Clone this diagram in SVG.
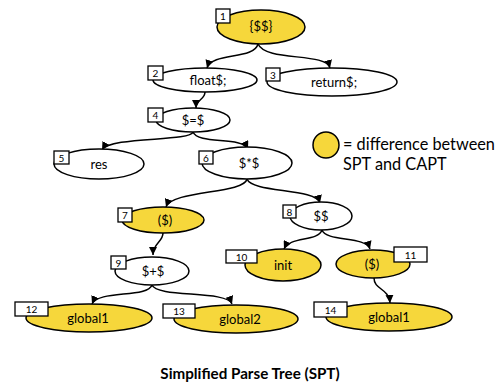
<svg xmlns="http://www.w3.org/2000/svg" width="498" height="384" viewBox="0 0 498 384">
<defs>
<marker id="ah" viewBox="0 0 10 10" refX="10" refY="5" markerWidth="8" markerHeight="8" markerUnits="userSpaceOnUse" orient="auto">
<path d="M0,0 L10,5 L0,10 z" fill="#000"/>
</marker>
<style>
.n{fill:#fff;stroke:#000;stroke-width:1.5}
.y{fill:#F6D73B;stroke:#000;stroke-width:1.5}
.t{font-family:Lato,"Liberation Sans",sans-serif;font-size:13px;text-anchor:middle;fill:#000}
.b{fill:#fff;stroke:#000;stroke-width:1.3}
.bt{font-family:Lato,"Liberation Sans",sans-serif;font-size:10px;text-anchor:middle;fill:#000}
.e{fill:none;stroke:#000;stroke-width:1.5;marker-end:url(#ah)}
.lg{font-family:Lato,"Liberation Sans",sans-serif;font-size:16.3px;fill:#000}
.ti{font-family:Lato,"Liberation Sans",sans-serif;font-size:15.2px;font-weight:bold;text-anchor:middle;fill:#000}
</style>
</defs>
<rect width="498" height="384" fill="#fff"/>
<g id="edges">
<path class="e" d="M258,44 C254,60 212,52 207,68"/>
<path class="e" d="M258,44 C266,62 326,52 330,68"/>
<path class="e" d="M205,92 C205,100 196,99 196,108"/>
<path class="e" d="M193,132 C190,142 110,136 102,150"/>
<path class="e" d="M193,132 C198,145 242,136 248,149"/>
<path class="e" d="M247,179 C244,194 172,190 166,207"/>
<path class="e" d="M247,179 C252,193 316,188 320,203"/>
<path class="e" d="M163,233 C163,242 153,243 153,255"/>
<path class="e" d="M322,230 C318,242 290,236 284,249"/>
<path class="e" d="M322,230 C326,242 366,236 370,249"/>
<path class="e" d="M152,285 C148,298 98,290 92,304"/>
<path class="e" d="M152,285 C157,298 227,290 232,304"/>
<path class="e" d="M374,278 C374,290 389,288 390,303"/>
</g>
<g id="node1"><ellipse class="y" cx="261" cy="27" rx="44" ry="17"/><text class="t" x="261" y="31">{$$}</text><rect class="b" x="216" y="9" width="14" height="14"/><text class="bt" x="223" y="20">1</text></g>
<g id="node2"><ellipse class="n" cx="205" cy="80" rx="52" ry="12"/><text class="t" x="208" y="85">float$;</text><rect class="b" x="148" y="66" width="15" height="14"/><text class="bt" x="155.5" y="77">2</text></g>
<g id="node3"><ellipse class="n" cx="332" cy="82" rx="65" ry="14"/><text class="t" x="334" y="87">return$;</text><rect class="b" x="266" y="68" width="14" height="13"/><text class="bt" x="273" y="78.5">3</text></g>
<g id="node4"><ellipse class="n" cx="193" cy="120" rx="37" ry="12"/><text class="t" x="193" y="125">$=$</text><rect class="b" x="148" y="108" width="15" height="14"/><text class="bt" x="155.5" y="119">4</text></g>
<g id="node5"><ellipse class="n" cx="99" cy="164" rx="45" ry="15"/><text class="t" x="99" y="169">res</text><rect class="b" x="54" y="151" width="15" height="13"/><text class="bt" x="61.5" y="161.5">5</text></g>
<g id="node6"><ellipse class="n" cx="247" cy="163" rx="45" ry="16"/><text class="t" x="249" y="168">$*$</text><rect class="b" x="199" y="151" width="14" height="13"/><text class="bt" x="206" y="161.5">6</text></g>
<g id="node7"><ellipse class="y" cx="163" cy="220" rx="41" ry="13"/><text class="t" x="165" y="225">($)</text><rect class="b" x="118" y="208" width="14" height="14"/><text class="bt" x="125" y="219">7</text></g>
<g id="node8"><ellipse class="n" cx="321" cy="216" rx="31" ry="14"/><text class="t" x="321" y="221">$$</text><rect class="b" x="283" y="205" width="13" height="13"/><text class="bt" x="289.5" y="215.5">8</text></g>
<g id="node9"><ellipse class="n" cx="152" cy="271" rx="37" ry="14"/><text class="t" x="153" y="276">$+$</text><rect class="b" x="111" y="256" width="15" height="13"/><text class="bt" x="118.5" y="266.5">9</text></g>
<g id="node10"><ellipse class="y" cx="283" cy="265" rx="38" ry="16"/><text class="t" x="283" y="270">init</text><rect class="b" x="226" y="250" width="31" height="13"/><text class="bt" x="241.5" y="260.5">10</text></g>
<g id="node11"><ellipse class="y" cx="373" cy="264" rx="37" ry="14"/><text class="t" x="372" y="269">($)</text><rect class="b" x="394" y="247" width="33" height="15"/><text class="bt" x="410.5" y="258.5">11</text></g>
<g id="node12"><ellipse class="y" cx="89" cy="318" rx="63" ry="14"/><text class="t" x="88" y="323">global1</text><rect class="b" x="15" y="302" width="33" height="14"/><text class="bt" x="31.5" y="313">12</text></g>
<g id="node13"><ellipse class="y" cx="236" cy="319" rx="62" ry="14"/><text class="t" x="240" y="324">global2</text><rect class="b" x="163" y="304" width="32" height="14"/><text class="bt" x="179" y="315">13</text></g>
<g id="node14"><ellipse class="y" cx="389" cy="317" rx="63" ry="14"/><text class="t" x="389" y="322">global1</text><rect class="b" x="314" y="302" width="33" height="15"/><text class="bt" x="330.5" y="313.5">14</text></g>
<g id="legend"><circle class="y" cx="326" cy="145" r="13"/><text class="lg" x="343" y="150">= difference between</text><text class="lg" x="343" y="170">SPT and CAPT</text></g>
<text class="ti" x="250" y="379">Simplified Parse Tree (SPT)</text>
</svg>
